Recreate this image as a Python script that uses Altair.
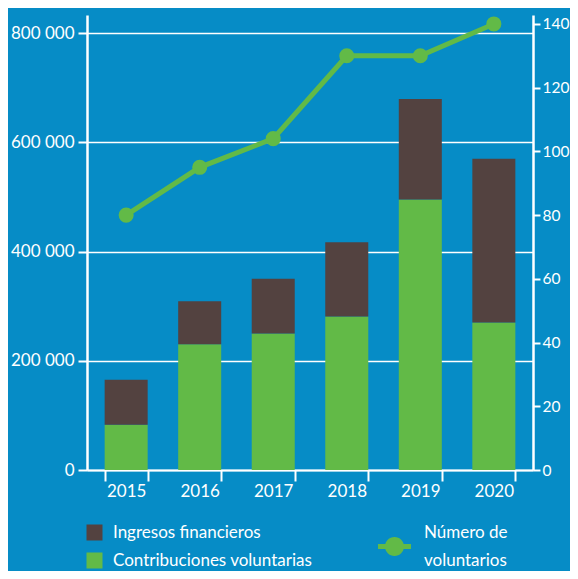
import altair as alt
import pandas as pd

years = ["2015", "2016", "2017", "2018", "2019", "2020"]
contribuciones = [83000, 230000, 250000, 281000, 495000, 270000]
ingresos = [82000, 79000, 100000, 136000, 184000, 300000]
voluntarios = [80, 95, 104, 130, 130, 140]

series_names = ["Ingresos financieros", "Contribuciones voluntarias"]
series_colors = ["#534240", "#62BA47"]
line_name = "Número de\nvoluntarios"
left_ticks = [0, 200000, 400000, 600000, 800000]
right_ticks = [0, 20, 40, 60, 80, 100, 120, 140]

BG = "#068CC6"
WHITE = "#FFFFFF"
GREEN = "#62BA47"
FONT = "Lato"

bars_df = pd.DataFrame({
    "year": years * 2,
    "serie": [series_names[1]] * len(years) + [series_names[0]] * len(years),
    "valor": contribuciones + ingresos,
    "orden": [0] * len(years) + [1] * len(years),
})
line_df = pd.DataFrame({"year": years, "voluntarios": voluntarios,
                        "serie": [line_name] * len(years)})

x = alt.X("year:N", title=None, sort=years,
          scale=alt.Scale(paddingInner=0.415, paddingOuter=0.24),
          axis=alt.Axis(labelAngle=0, tickBand="extent", domainColor=WHITE,
                        domainWidth=2, tickColor=WHITE, tickWidth=2, tickSize=11,
                        labelColor=WHITE, labelFontSize=17, labelFont=FONT,
                        labelPadding=2))

bars = alt.Chart(bars_df).mark_bar().encode(
    x=x,
    y=alt.Y("valor:Q", stack="zero", title=None,
            scale=alt.Scale(domain=[0, 833000], nice=False),
            axis=alt.Axis(values=left_ticks,
                          labelExpr="datum.value == 0 ? '0' : format(datum.value / 1000, 'd') + ' 000'",
                          grid=True, gridColor=WHITE, gridWidth=1.5,
                          domainColor=WHITE, domainWidth=2.5, tickColor=WHITE,
                          tickWidth=2, tickSize=9, labelPadding=4,
                          labelColor=WHITE, labelFontSize=17, labelFont=FONT)),
    color=alt.Color("serie:N",
                    scale=alt.Scale(domain=series_names, range=series_colors),
                    legend=alt.Legend(title=None, orient="none", legendX=-1, legendY=509,
                                      direction="vertical", symbolType="square",
                                      symbolSize=256, symbolStrokeWidth=0,
                                      labelFontSize=17, labelFont=FONT,
                                      labelColor=WHITE, labelOffset=10,
                                      labelLimit=400,
                                      rowPadding=10, padding=0)),
    order=alt.Order("orden:Q", sort="ascending"),
)

yr = alt.Y("voluntarios:Q", title=None,
           scale=alt.Scale(domain=[0, 142.8], nice=False),
           axis=alt.Axis(orient="right", values=right_ticks, grid=False,
                         domainColor=WHITE, domainWidth=2.5, tickColor=WHITE,
                         tickWidth=2, tickSize=7, labelPadding=2,
                         labelColor=WHITE, labelFontSize=15.5, labelFont=FONT))

line = alt.Chart(line_df).mark_line(color=GREEN, strokeWidth=5).encode(x=x, y=yr)

sym = "M-1.74,-0.27H1.74V0.27H-1.74Z M1,0 A1,1 0 1,1 -1,0 A1,1 0 1,1 1,0 Z"
points = alt.Chart(line_df).mark_circle(size=227, opacity=1).encode(
    x=x, y=yr,
    color=alt.Color("serie:N", scale=alt.Scale(range=[GREEN]),
                    legend=alt.Legend(title=None, orient="none", legendX=298, legendY=522,
                                      symbolType=sym, symbolSize=361,
                                      symbolStrokeWidth=0, symbolOpacity=1,
                                      labelFontSize=17, labelFont=FONT,
                                      labelColor=WHITE, labelOffset=20,
                                      labelLimit=400, labelBaseline="line-bottom",
                                      labelExpr="split(datum.label, '\\n')",
                                      padding=0)),
)

right = alt.layer(line, points)

chart = alt.layer(bars, right).resolve_scale(
    y="independent", color="independent"
).properties(
    width=446, height=455,
    autosize=alt.AutoSizeParams(type="none"),
    padding={"left": 79, "top": 7, "right": 37, "bottom": 101},
    background=BG,
).configure(
    style={"guide-label": {"lineHeight": 28}}
).configure_view(strokeWidth=0)

chart.save("out.html", embed_options={"renderer": "svg", "actions": False})
